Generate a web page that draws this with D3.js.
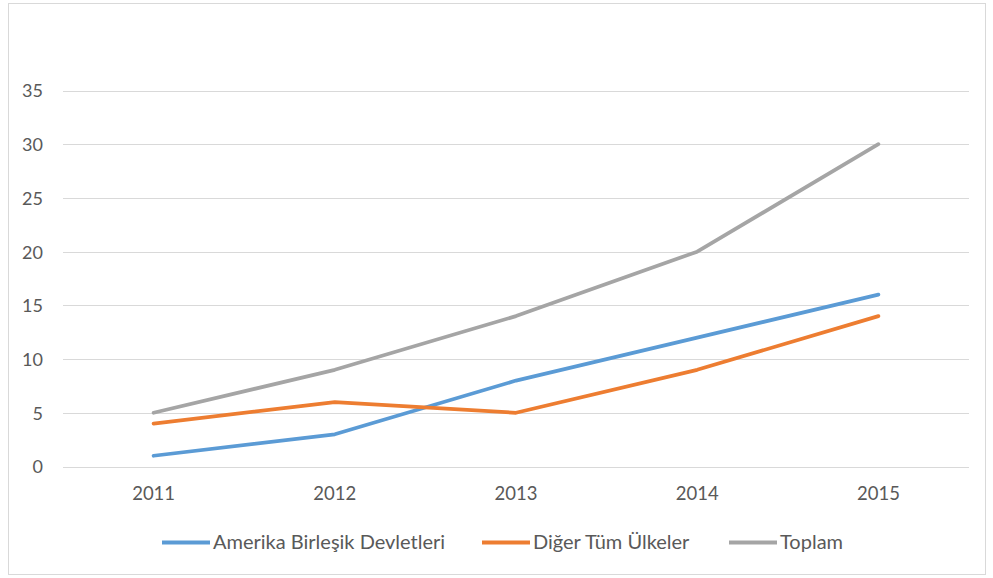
<!DOCTYPE html>
<html>
<head>
<meta charset="utf-8">
<script src="https://cdn.jsdelivr.net/npm/d3@7"></script>
<style>
  html, body { margin: 0; padding: 0; background: #fff; }
  svg { display: block; }
  text { font-family: Lato, "Open Sans", sans-serif; fill: #595959; }
</style>
</head>
<body>
<svg id="chart" width="993" height="578"></svg>
<script>
// Years on the category axis
const years = ["2011", "2012", "2013", "2014", "2015"];
// Series values per year
const usa = [1, 3, 8, 12, 16];
const others = [4, 6, 5, 9, 14];
const total = [5, 9, 14, 20, 30];
// Series names shown in the legend
const seriesNames = ["Amerika Birleşik Devletleri", "Diğer Tüm Ülkeler", "Toplam"];
// Value axis ticks
const yTicks = [0, 5, 10, 15, 20, 25, 30, 35];

const colors = ["#5B9BD5", "#ED7D31", "#A5A5A5"];
const seriesValues = [usa, others, total];

const svg = d3.select("#chart");

// Outer chart frame
svg.append("rect")
  .attr("x", 8.5).attr("y", 3.5)
  .attr("width", 977).attr("height", 571)
  .attr("fill", "#fff")
  .attr("stroke", "#d9d9d9").attr("stroke-width", 1);

const plot = { left: 63, right: 969, top: 90.5, bottom: 466.5 };

const x = d3.scaleBand()
  .domain(years)
  .range([plot.left, plot.right]);

const y = d3.scaleLinear()
  .domain([0, 35])
  .range([plot.bottom, plot.top]);

// Horizontal gridlines (including the baseline)
svg.append("g")
  .selectAll("line")
  .data(yTicks)
  .join("line")
  .attr("x1", plot.left).attr("x2", plot.right)
  .attr("y1", d => Math.round(y(d)) + 0.5)
  .attr("y2", d => Math.round(y(d)) + 0.5)
  .attr("stroke", "#d9d9d9").attr("stroke-width", 1);

// Value axis labels
const yAxis = d3.axisLeft(y).tickValues(yTicks).tickSize(0).tickPadding(0);
const gy = svg.append("g")
  .attr("transform", `translate(43,0)`)
  .call(yAxis);
gy.select(".domain").remove();
gy.selectAll("text")
  .style("font-size", "18px")
  .attr("fill", "#595959")
  .attr("dy", "0.36em");

// Category axis labels
const xAxis = d3.axisBottom(x).tickSize(0).tickPadding(0);
const gx = svg.append("g")
  .attr("transform", `translate(0,${plot.bottom + 20})`)
  .call(xAxis);
gx.select(".domain").remove();
gx.selectAll("text")
  .style("font-size", "18.5px")
  .attr("fill", "#595959");

// Series lines
const line = d3.line()
  .x((d, i) => x(years[i]) + x.bandwidth() / 2)
  .y(d => y(d));

svg.append("g")
  .selectAll("path")
  .data(seriesValues)
  .join("path")
  .attr("d", d => line(d))
  .attr("fill", "none")
  .attr("stroke", (d, i) => colors[i])
  .attr("stroke-width", 3.75)
  .attr("stroke-linecap", "round")
  .attr("stroke-linejoin", "round");

// Legend
const legendItems = [
  { name: seriesNames[0], color: colors[0], x: 162 },
  { name: seriesNames[1], color: colors[1], x: 482 },
  { name: seriesNames[2], color: colors[2], x: 729 }
];
const lg = svg.append("g").attr("transform", "translate(0,542.5)");
const li = lg.selectAll("g").data(legendItems).join("g")
  .attr("transform", d => `translate(${d.x},0)`);
li.append("line")
  .attr("x1", 0).attr("x2", 48)
  .attr("y1", 0).attr("y2", 0)
  .attr("stroke", d => d.color)
  .attr("stroke-width", 4);
li.append("text")
  .attr("x", 51).attr("dy", "0.32em")
  .style("font-size", "20px")
  .text(d => d.name);
</script>
</body>
</html>
